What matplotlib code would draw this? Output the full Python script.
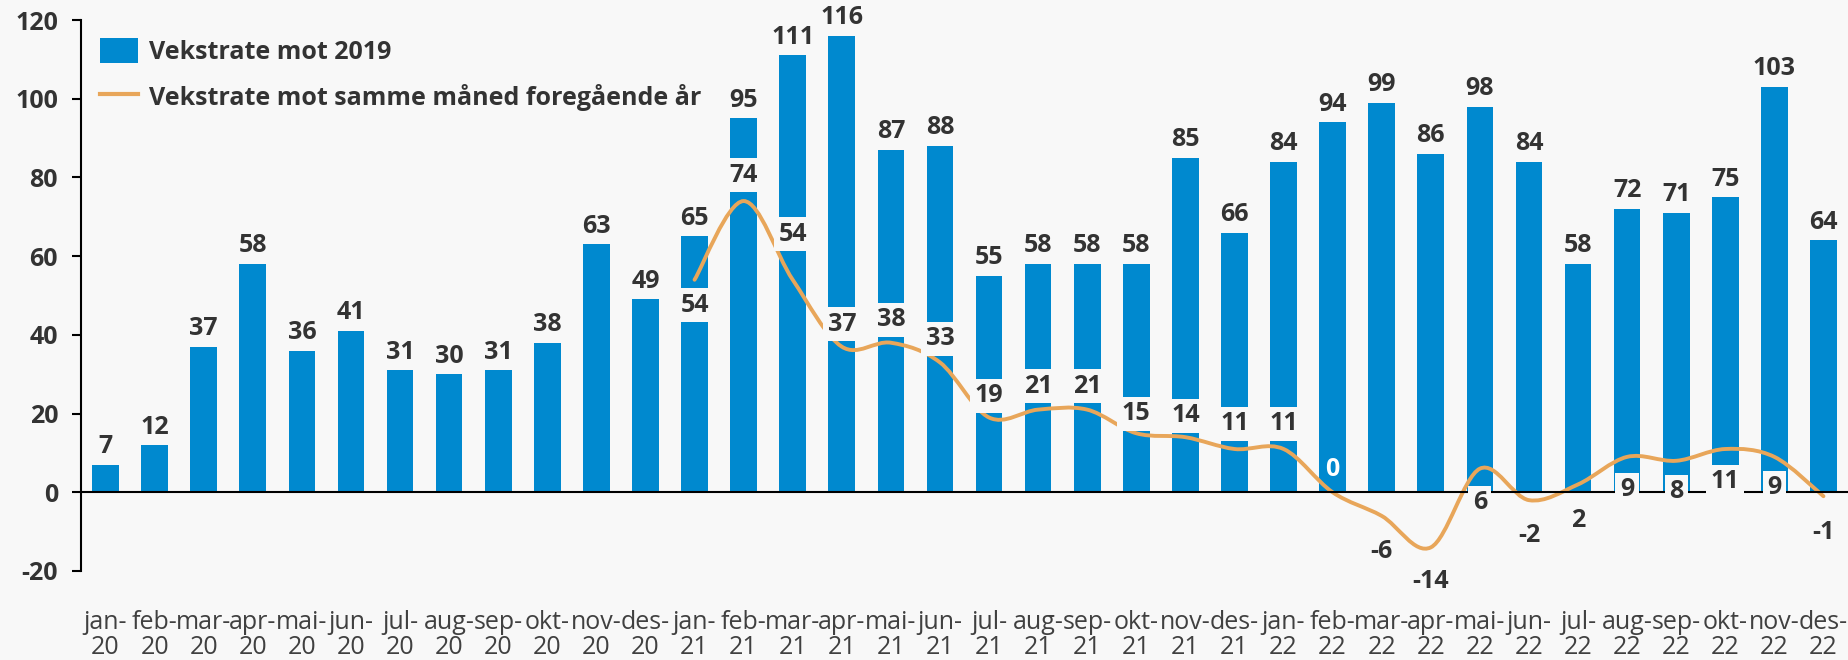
import numpy as np
import matplotlib.pyplot as plt
from matplotlib.path import Path
from matplotlib.patches import PathPatch, Patch
from matplotlib.lines import Line2D

plt.rcParams['font.family'] = ['Open Sans', 'DejaVu Sans']
plt.rcParams['axes.unicode_minus'] = False

# data
months = ['jan', 'feb', 'mar', 'apr', 'mai', 'jun', 'jul', 'aug', 'sep', 'okt', 'nov', 'des']
years = ['20', '21', '22']
labels = [f'{m}-\n{y}' for y in years for m in months]

vs_2019 = [7, 12, 37, 58, 36, 41, 31, 30, 31, 38, 63, 49,
           65, 95, 111, 116, 87, 88, 55, 58, 58, 58, 85, 66,
           84, 94, 99, 86, 98, 84, 58, 72, 71, 75, 103, 64]

# year-on-year growth, starts jan-21
yoy = [54, 74, 54, 37, 38, 33, 19, 21, 21, 15, 14, 11,
       11, 0, -6, -14, 6, -2, 2, 9, 8, 11, 9, -1]
yoy_start = 12
# where the yoy labels sit (data units)
yoy_label_y = [48.2, 81.2, 66.3, 43.4, 44.5, 39.7, 25.2, 27.7, 27.7, 20.7, 20.2, 18.1,
               18.1, 6.4, -14.3, -22, -2, -10.4, -6.5, 1.3, 0.8, 3.4, 1.9, -9.5]

BLUE = '#0089CF'
ORANGE = '#E8A65A'
BG = '#F8F8F8'
TXT = '#333333'

fig = plt.figure(figsize=(18.49, 6.60), dpi=100, facecolor=BG)
ax = fig.add_axes([81 / 1849, 1 - 571 / 660, (1848 - 81) / 1849, (571 - 20) / 660])
ax.set_facecolor(BG)

x = np.arange(len(vs_2019))
ax.bar(x, vs_2019, width=0.544, color=BLUE, zorder=2)
for xi, v in zip(x, vs_2019):
    ax.annotate(str(v), (xi, v), xytext=(0, 4), textcoords='offset points',
                ha='center', va='bottom', fontsize=18, fontweight='bold',
                color=TXT, zorder=5)

# smooth line (bezier through the points)
lx = x[yoy_start:]
pts = np.column_stack([lx, yoy]).astype(float)
ext = np.vstack([pts[0], pts, pts[-1]])
verts = [tuple(pts[0])]
codes = [Path.MOVETO]
for i in range(1, len(ext) - 2):
    p0, p1, p2, p3 = ext[i - 1], ext[i], ext[i + 1], ext[i + 2]
    c1 = p1 + (p2 - p0) / 6
    c2 = p2 - (p3 - p1) / 6
    verts += [tuple(c1), tuple(c2), tuple(p2)]
    codes += [Path.CURVE4] * 3
ax.add_patch(PathPatch(Path(verts, codes), fill=False, edgecolor=ORANGE,
                       lw=2.8, capstyle='round', zorder=3))

for xi, v, ly in zip(lx, yoy, yoy_label_y):
    if v == 0:
        ax.annotate(str(v), (xi, ly), xytext=(0, -2), textcoords='offset points',
                    ha='center', va='center', fontsize=18, fontweight='bold',
                    color='white', zorder=5, annotation_clip=False)
    else:
        ax.annotate(str(v), (xi, ly), xytext=(0, -2), textcoords='offset points',
                    ha='center', va='center', fontsize=18, fontweight='bold',
                    color=TXT, zorder=5, annotation_clip=False,
                    bbox=dict(boxstyle='square,pad=0.18', fc=BG, ec='none'))

ax.axhline(0, color='black', lw=1.5, zorder=4)

ax.set_xlim(-0.5, 35.5)
ax.set_ylim(-20, 120)
ax.set_yticks(range(-20, 121, 20))
ax.set_xticks(x)
ax.set_xticklabels(labels, fontsize=18, color='#404040', linespacing=1.0)
ax.tick_params(axis='x', length=0, pad=28)
ax.tick_params(axis='y', length=6.5, width=1.5, color='black', labelsize=18,
               labelcolor=TXT, pad=10)
for lab in ax.get_yticklabels():
    lab.set_fontweight('bold')
for s in ['top', 'right', 'bottom']:
    ax.spines[s].set_visible(False)
ax.spines['left'].set_linewidth(1.5)

handles = [Patch(facecolor=BLUE, edgecolor='none'),
           Line2D([], [], color=ORANGE, lw=3)]
leg = ax.legend(handles, ['Vekstrate mot 2019', 'Vekstrate mot samme måned foregående år'],
                loc='upper left', bbox_to_anchor=(100 / 1849, 1 - 38 / 660),
                bbox_transform=fig.transFigure, frameon=False, borderpad=0,
                borderaxespad=0, prop={'size': 18, 'weight': 'bold'},
                handlelength=1.52, handleheight=1.16, handletextpad=0.44,
                labelspacing=0.75)
for t in leg.get_texts():
    t.set_color(TXT)

fig.savefig('out.png', dpi=100, facecolor=BG)
